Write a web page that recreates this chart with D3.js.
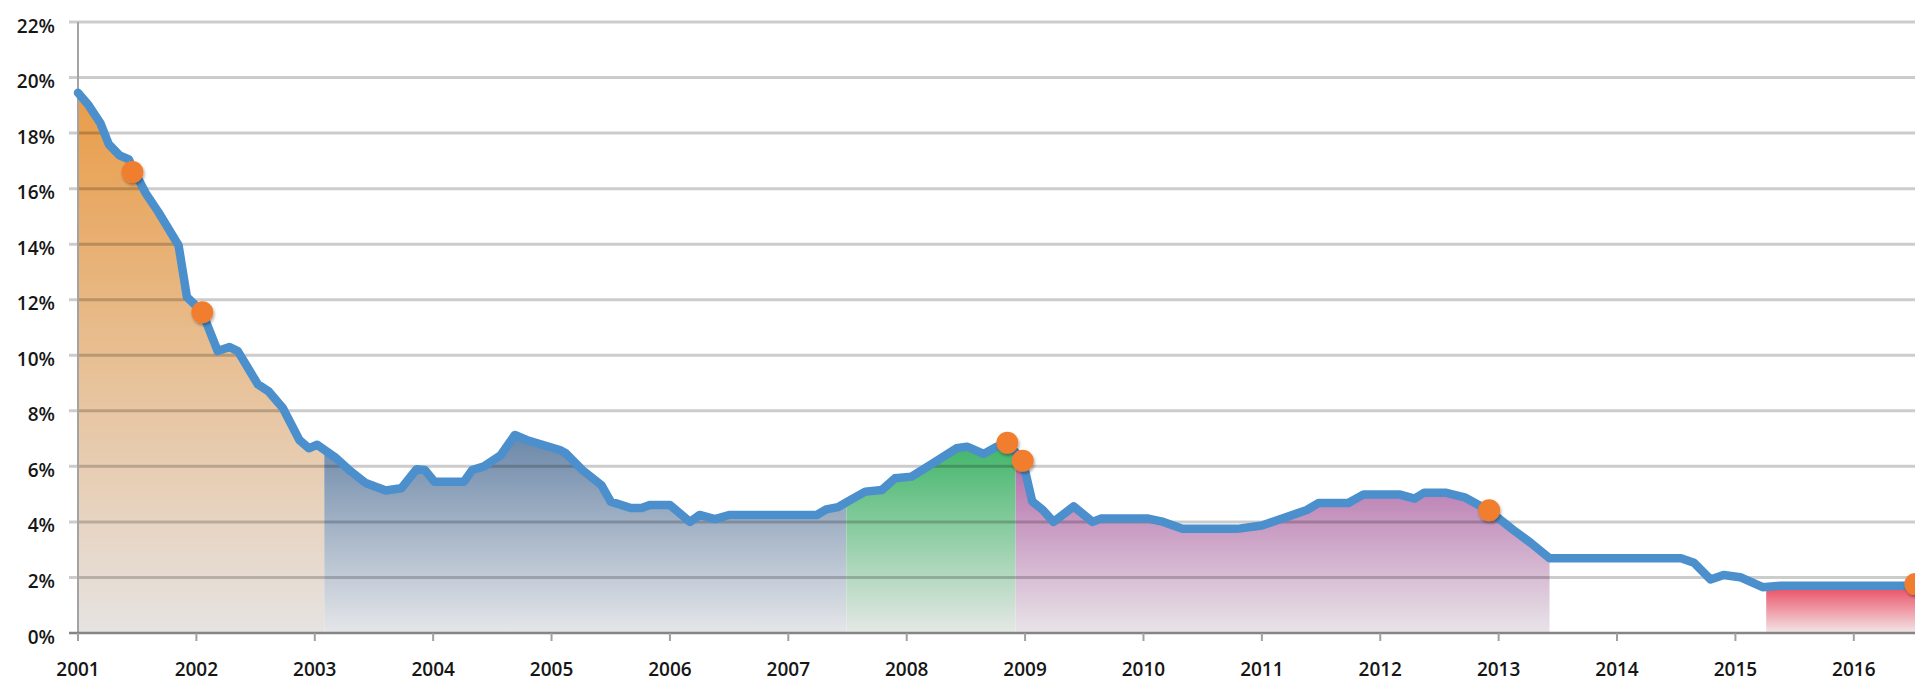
<!DOCTYPE html>
<html>
<head>
<meta charset="utf-8">
<script src="https://cdn.jsdelivr.net/npm/d3@7"></script>
<style>
  html, body { margin: 0; padding: 0; background: #fff; overflow: hidden; }
  svg { display: block; }
  text { font-family: "Open Sans", "Liberation Sans", sans-serif; fill: #161616; font-weight: 600; }
</style>
</head>
<body>
<svg id="chart" width="1915" height="682"></svg>
<script>
// ---- data ----
const years = [
  2001.00, 2001.09, 2001.19, 2001.26, 2001.35, 2001.43, 2001.46, 2001.57, 2001.68, 2001.85,
  2001.92, 2001.98, 2002.05, 2002.18, 2002.28, 2002.35, 2002.52, 2002.61, 2002.73, 2002.87,
  2002.95, 2003.02, 2003.18, 2003.29, 2003.43, 2003.60, 2003.73, 2003.86, 2003.93, 2004.01,
  2004.26, 2004.33, 2004.43, 2004.57, 2004.69, 2004.79, 2005.07, 2005.12, 2005.26, 2005.42,
  2005.50, 2005.67, 2005.76, 2005.83, 2006.00, 2006.17, 2006.25, 2006.38, 2006.50, 2007.24,
  2007.32, 2007.42, 2007.50, 2007.65, 2007.79, 2007.90, 2008.04, 2008.20, 2008.42, 2008.51,
  2008.65, 2008.76, 2008.85, 2008.98, 2009.06, 2009.15, 2009.24, 2009.41, 2009.57, 2009.64,
  2010.04, 2010.15, 2010.33, 2010.79, 2011.00, 2011.38, 2011.48, 2011.73, 2011.86, 2012.16,
  2012.29, 2012.37, 2012.55, 2012.72, 2012.92, 2013.12, 2013.27, 2013.43, 2014.54, 2014.65,
  2014.79, 2014.90, 2015.04, 2015.23, 2015.38, 2016.60
];
const rates = [
  19.45, 19.0, 18.35, 17.6, 17.2, 17.05, 16.75, 15.85, 15.15, 13.95,
  12.1, 11.85, 11.55, 10.15, 10.3, 10.15, 8.95, 8.7, 8.1, 6.95,
  6.65, 6.78, 6.3, 5.87, 5.4, 5.13, 5.21, 5.9, 5.87, 5.45,
  5.45, 5.87, 6.0, 6.4, 7.13, 6.95, 6.59, 6.47, 5.87, 5.33,
  4.73, 4.5, 4.5, 4.61, 4.61, 4.0, 4.25, 4.1, 4.25, 4.25,
  4.45, 4.53, 4.73, 5.09, 5.15, 5.57, 5.63, 6.05, 6.65, 6.71,
  6.45, 6.71, 6.85, 6.2, 4.74, 4.43, 4.0, 4.56, 4.0, 4.12,
  4.12, 4.02, 3.75, 3.75, 3.87, 4.43, 4.68, 4.68, 4.99, 4.99,
  4.84, 5.05, 5.05, 4.87, 4.4, 3.72, 3.25, 2.69, 2.69, 2.53,
  1.93, 2.09, 2.01, 1.65, 1.7, 1.7
];
// shaded periods: start, end, top colour, bottom colour
const periodStarts = [2001.0, 2003.08, 2007.49, 2008.92, 2015.26];
const periodEnds   = [2003.08, 2007.49, 2008.92, 2013.43, 2016.70];
const periodTop    = ["#e99c47", "#6b87a8", "#3fb568", "#b46fab", "#ea4a60"];
const periodBottom = ["#e6e3e2", "#e5e6e9", "#e5e8e5", "#e9e4e9", "#f3e7e9"];
// highlighted points
const dotYears = [2001.46, 2002.05, 2008.85, 2008.98, 2012.92, 2016.52];
const dotRates = [16.6, 11.55, 6.85, 6.2, 4.42, 1.76];
// axis ticks
const yTicks = [0, 2, 4, 6, 8, 10, 12, 14, 16, 18, 20, 22];
const xTicks = d3.range(2001, 2017);

// ---- scales ----
const svg = d3.select("#chart");
const x = d3.scaleLinear().domain([2001, 2016]).range([78, 1853.8]);
const y = d3.scaleLinear().domain([0, 22]).range([633, 22]);
const data = years.map((yr, i) => ({ yr, v: rates[i] }));

const defs = svg.append("defs");
const filt = defs.append("filter").attr("id", "shadow").attr("x", "-50%").attr("y", "-50%").attr("width", "200%").attr("height", "200%");
filt.append("feDropShadow").attr("dx", 1).attr("dy", 2).attr("stdDeviation", 1.8).attr("flood-color", "#000").attr("flood-opacity", 0.35);

// ---- shaded areas ----
const area = d3.area().x(d => x(d.yr)).y0(y(0)).y1(d => y(d.v));
periodStarts.forEach((s, i) => {
  const e = periodEnds[i];
  const inside = data.filter(d => d.yr >= s - 0.05 && d.yr <= e + 0.05);
  const top = d3.max(inside, d => d.v);
  const g = defs.append("linearGradient").attr("id", "grad" + i)
    .attr("gradientUnits", "userSpaceOnUse")
    .attr("x1", 0).attr("x2", 0).attr("y1", y(top)).attr("y2", y(0));
  g.append("stop").attr("offset", 0).attr("stop-color", periodTop[i]);
  g.append("stop").attr("offset", 1).attr("stop-color", periodBottom[i]);
  defs.append("clipPath").attr("id", "clip" + i)
    .append("rect").attr("x", x(s)).attr("y", 0).attr("width", x(e) - x(s)).attr("height", y(0));
  svg.append("path").datum(data).attr("d", area)
    .attr("fill", `url(#grad${i})`).attr("clip-path", `url(#clip${i})`);
});

// ---- grid lines ----
svg.append("g").selectAll("line").data(yTicks.filter(t => t > 0)).join("line")
  .attr("x1", 69).attr("x2", 1915)
  .attr("y1", d => y(d)).attr("y2", d => y(d))
  .attr("stroke", "rgba(0,0,0,0.2)").attr("stroke-width", 3);

// y axis line
svg.append("line").attr("x1", 78).attr("x2", 78).attr("y1", y(22)).attr("y2", y(0))
  .attr("stroke", "#a3a3a3").attr("stroke-width", 2);
// x axis line
svg.append("line").attr("x1", 69).attr("x2", 1915).attr("y1", y(0)).attr("y2", y(0))
  .attr("stroke", "#858585").attr("stroke-width", 2.5);
// x ticks
svg.append("g").selectAll("line").data(xTicks).join("line")
  .attr("x1", d => x(d)).attr("x2", d => x(d)).attr("y1", y(0)).attr("y2", y(0) + 8)
  .attr("stroke", "#a0a0a0").attr("stroke-width", 2);

// y labels
svg.append("g").selectAll("text").data(yTicks).join("text")
  .attr("x", 55).attr("y", d => y(d) + 10.5)
  .attr("text-anchor", "end").attr("font-size", 19)
  .text(d => d + "%");
// x labels
svg.append("g").selectAll("text").data(xTicks).join("text")
  .attr("x", d => x(d)).attr("y", 676)
  .attr("text-anchor", "middle").attr("font-size", 19)
  .text(d => d);

// ---- line ----
const line = d3.line().x(d => x(d.yr)).y(d => y(d.v));
svg.append("path").datum(data).attr("d", line)
  .attr("fill", "none").attr("stroke", "#4b8fcc").attr("stroke-width", 8.5)
  .attr("stroke-linejoin", "round").attr("stroke-linecap", "round");

// ---- dots ----
svg.append("g").selectAll("circle").data(dotYears.map((yr, i) => ({ yr, v: dotRates[i] }))).join("circle")
  .attr("cx", d => x(d.yr)).attr("cy", d => y(d.v)).attr("r", 11)
  .attr("fill", "#f07e2f").attr("filter", "url(#shadow)");
</script>
</body>
</html>
